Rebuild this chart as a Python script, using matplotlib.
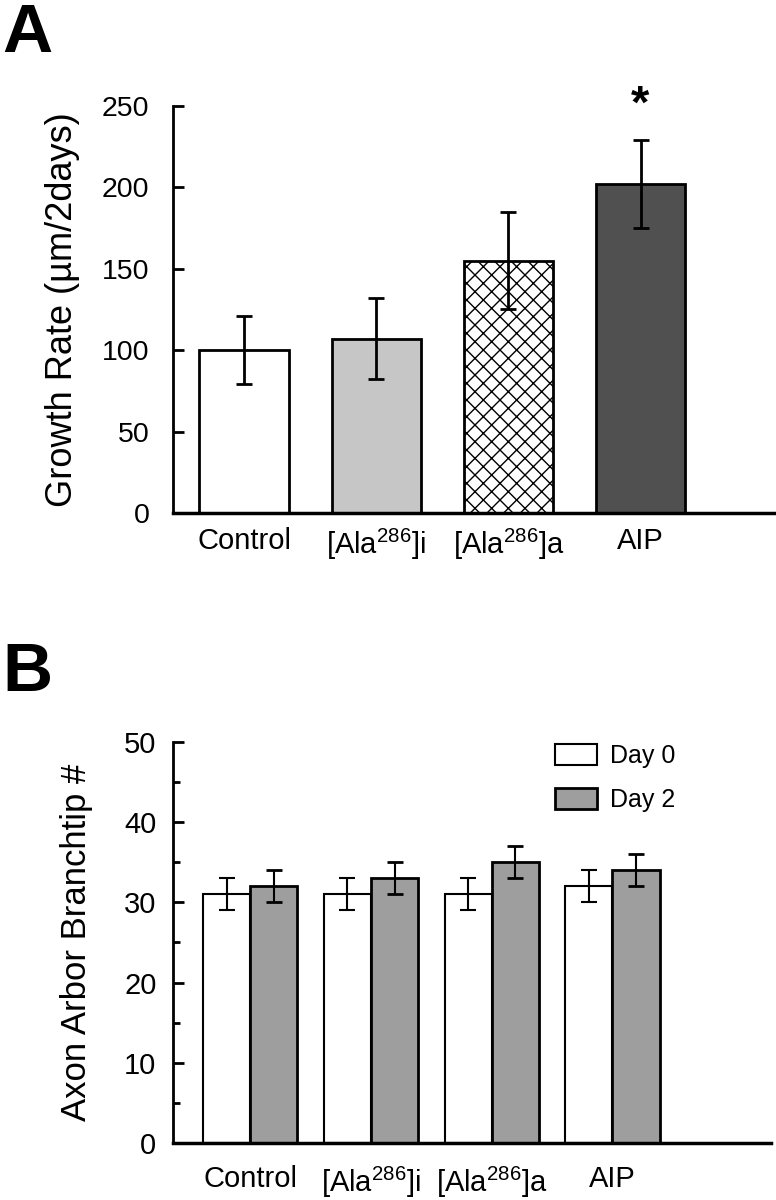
import numpy as np
import matplotlib
matplotlib.use("Agg")
import matplotlib.pyplot as plt

plt.rcParams['font.family'] = ['Liberation Sans', 'DejaVu Sans']
plt.rcParams['mathtext.default'] = 'regular'
plt.rcParams['hatch.linewidth'] = 1.0

# panel A data
groups = ['Control', '[Ala$^{286}$]i', '[Ala$^{286}$]a', 'AIP']
growth = [100, 107, 155, 202]
growth_err = [21, 25, 30, 27]

# panel B data
day0 = [31, 31, 31, 32]
day0_err = [2, 2, 2, 2]
day2 = [32, 33, 35, 34]
day2_err = [2, 2, 2, 2]

fig = plt.figure(figsize=(7.76, 12), dpi=100)

# ---- panel A ----
axA = fig.add_axes([0.223, 0.5725, 0.776, 0.3392])
x = np.arange(len(groups))
facecols = ['white', '#c6c6c6', 'white', '#505050']
hatches = [None, None, 'xx', None]
for i in range(len(groups)):
    axA.bar(x[i], growth[i], width=0.68, color=facecols[i], edgecolor='black',
            linewidth=2, hatch=hatches[i], zorder=2)
axA.errorbar(x, growth, yerr=growth_err, fmt='none', ecolor='black',
             elinewidth=2, capsize=6, capthick=2, zorder=3)
axA.text(x[3], 250, '*', ha='center', va='center', fontsize=34, fontweight='bold',
         clip_on=False)

axA.set_ylim(0, 250)
axA.set_xlim(-0.54, 4.02)
axA.set_yticks([0, 50, 100, 150, 200, 250])
axA.set_xticks(x)
axA.set_xticklabels(groups)
axA.set_ylabel('Growth Rate (\u00b5m/2days)', fontsize=26)
axA.yaxis.set_label_coords(-0.155, 0.5)
axA.spines['top'].set_visible(False)
axA.spines['right'].set_visible(False)
axA.spines['left'].set_linewidth(2)
axA.spines['bottom'].set_linewidth(2.5)
axA.tick_params(axis='y', direction='in', length=8, width=2, labelsize=20.5, pad=17)
axA.tick_params(axis='x', length=0, labelsize=21, pad=10)

# ---- panel B ----
axB = fig.add_axes([0.223, 0.0475, 0.77, 0.3342])
xb = np.arange(len(groups))
w = 0.39
axB.bar(xb - w / 2, day0, width=w, color='white', edgecolor='black',
        linewidth=1.5, label='Day 0', zorder=2)
axB.bar(xb + w / 2, day2, width=w, color='#9e9e9e', edgecolor='black',
        linewidth=2, label='Day 2', zorder=2)
axB.errorbar(xb - w / 2, day0, yerr=day0_err, fmt='none', ecolor='black',
             elinewidth=1.5, capsize=5.5, capthick=1.5, zorder=3)
axB.errorbar(xb + w / 2, day2, yerr=day2_err, fmt='none', ecolor='black',
             elinewidth=1.5, capsize=5.5, capthick=2, zorder=3)

axB.set_ylim(0, 50)
axB.set_xlim(-0.64, 4.31)
axB.set_yticks([0, 10, 20, 30, 40, 50])
axB.set_yticks(np.arange(5, 50, 10), minor=True)
axB.set_xticks(xb)
axB.set_xticklabels(groups)
axB.set_ylabel('Axon Arbor Branchtip #', fontsize=25)
axB.yaxis.set_label_coords(-0.134, 0.5)
axB.spines['top'].set_visible(False)
axB.spines['right'].set_visible(False)
axB.spines['left'].set_linewidth(2)
axB.spines['bottom'].set_linewidth(2.5)
axB.tick_params(axis='y', which='major', direction='in', length=8, width=2, labelsize=21, pad=12)
axB.tick_params(axis='y', which='minor', direction='in', length=5, width=2)
axB.tick_params(axis='x', length=0, labelsize=21, pad=16)
axB.legend(loc='upper left', bbox_to_anchor=(0.639, 0.995), frameon=False, fontsize=18,
           handlelength=1.7, handleheight=0.9, handletextpad=0.5, labelspacing=0.8,
           borderpad=0, borderaxespad=0)

fig.text(0.003, 0.998, 'A', fontsize=50, fontweight='bold', ha='left', va='top')
fig.text(0.003, 0.466, 'B', fontsize=50, fontweight='bold', ha='left', va='top')

fig.savefig('out.png', dpi=100)
